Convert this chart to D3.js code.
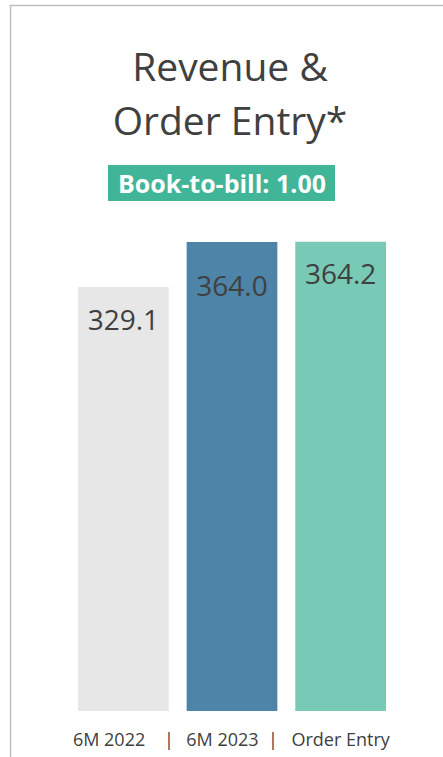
<!DOCTYPE html>
<html>
<head>
<meta charset="utf-8">
<script src="https://cdn.jsdelivr.net/npm/d3@7"></script>
<style>
  body { margin: 0; background: #fff; }
  text { font-family: "Open Sans", sans-serif; fill: #404040; }
</style>
</head>
<body>
<script>
// data
var categories = ["6M 2022", "6M 2023", "Order Entry"];
var tickLabels = ["6M 2022    |", "6M 2023  |", "Order Entry"];
var values = [329.1, 364.0, 364.2];
var colors = ["#e7e7e7", "#4e84a8", "#78c9b5"];
var titleLines = ["Revenue &", "Order Entry*"];
var badgeText = "Book-to-bill: 1.00";

var width = 443, height = 757;

var svg = d3.select("body").append("svg")
    .attr("width", width)
    .attr("height", height);

// frame
svg.append("path")
    .attr("d", "M10.5," + height + "V5.5H" + width)
    .attr("fill", "none")
    .attr("stroke", "#bfbfbf")
    .attr("stroke-width", 1.5);

var x = d3.scaleBand()
    .domain(categories)
    .range([78, 386])
    .paddingInner(0.165)
    .paddingOuter(0);

var y = d3.scaleLinear()
    .domain([0, 364])
    .range([711, 242]);

// title
svg.selectAll(".title")
    .data(titleLines)
    .enter().append("text")
    .attr("x", 230)
    .attr("y", function(d, i) { return 81 + i * 54; })
    .attr("text-anchor", "middle")
    .style("font-size", "39px")
    .text(function(d) { return d; });

// badge
svg.append("rect")
    .attr("x", 108).attr("y", 165)
    .attr("width", 227).attr("height", 36)
    .attr("fill", "#41b598");
svg.append("text")
    .attr("x", 222).attr("y", 193)
    .attr("text-anchor", "middle")
    .style("font-size", "25px")
    .style("font-weight", "bold")
    .style("fill", "#fff")
    .text(badgeText);

// bars
svg.selectAll(".bar")
    .data(values)
    .enter().append("rect")
    .attr("x", function(d, i) { return x(categories[i]); })
    .attr("y", function(d) { return y(d); })
    .attr("width", x.bandwidth())
    .attr("height", function(d) { return y(0) - y(d); })
    .attr("fill", function(d, i) { return colors[i]; });

// value labels (inside end, excel-style offsets)
svg.selectAll(".val")
    .data(values)
    .enter().append("text")
    .attr("x", function(d, i) { return x(categories[i]) + x.bandwidth() / 2; })
    .attr("y", function(d, i) { return y(d) + (i == 1 ? 54 : i == 2 ? 42 : 43); })
    .attr("text-anchor", "middle")
    .style("font-size", "28px")
    .text(function(d) { return d.toFixed(1); });

// axis
var axis = svg.append("g")
    .attr("transform", "translate(0," + y(0) + ")")
    .call(d3.axisBottom(x).tickSize(0).tickPadding(22)
        .tickFormat(function(d, i) { return tickLabels[i]; }));
axis.select(".domain").remove();
axis.selectAll("text")
    .attr("xml:space", "preserve")
    .style("white-space", "pre")
    .style("font-family", "'Open Sans', sans-serif")
    .style("font-size", "18px")
    .style("fill", "#404040");
</script>
</body>
</html>
